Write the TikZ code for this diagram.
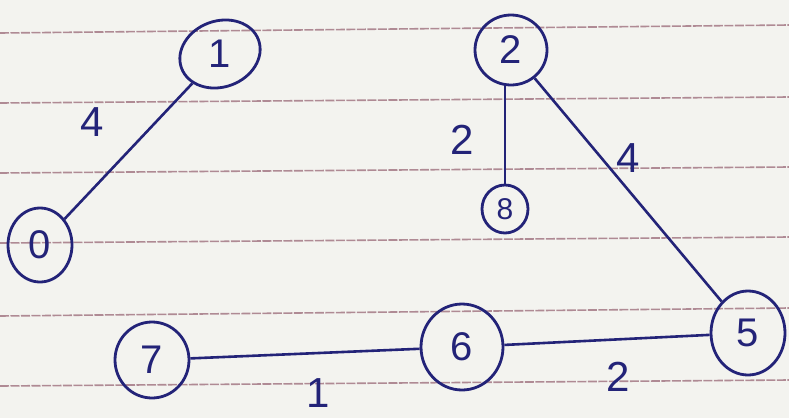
\documentclass[tikz,border=0pt]{standalone}
\usepackage{fontspec}
\setmainfont{Liberation Sans}
\usetikzlibrary{shapes.geometric}
\definecolor{ink}{RGB}{35,35,120}
\definecolor{paper}{RGB}{243,243,239}
\definecolor{rule}{RGB}{175,138,148}
\tikzset{
  vert/.style={ellipse, draw=ink, line width=2.8pt, text=ink, inner sep=0pt,
    font=\fontsize{40}{40}\selectfont},
  edge/.style={draw=ink, line width=2.6pt},
  wlabel/.style={text=ink, font=\fontsize{42}{42}\selectfont},
  ruleline/.style={draw=rule, line width=1.6pt, dash pattern=on 9pt off 1.5pt}
}
\begin{document}
\begin{tikzpicture}[x=1pt,y=-1pt]
\fill[paper] (0,0) rectangle (789,418);
\useasboundingbox (0,0) rectangle (789,418);
% paper rules
\draw[ruleline] (0,33) -- (789,25);
\draw[ruleline] (0,103) -- (789,97);
\draw[ruleline] (0,173) -- (789,167);
\draw[ruleline] (0,243) -- (789,237);
\draw[ruleline] (0,316) -- (789,308);
\draw[ruleline] (0,386) -- (789,380);
% vertices
\node[vert, minimum width=82pt, minimum height=66pt, rotate=20] (n1) at (220,54) {\rotatebox{-20}{1}};
\node[vert, minimum width=72pt, minimum height=70pt] (n2) at (511,50) {2};
\node[vert, minimum width=46pt, minimum height=48pt, font=\fontsize{30}{30}\selectfont] (n8) at (505,209) {8};
\node[vert, minimum width=64pt, minimum height=74pt] (n0) at (40,245) {0};
\node[vert, minimum width=74pt, minimum height=76pt] (n7) at (152,360) {7};
\node[vert, minimum width=82pt, minimum height=86pt] (n6) at (462,347) {6};
\node[vert, minimum width=74pt, minimum height=84pt] (n5) at (748,333) {5};
% edges
\draw[edge] (n1) -- (n0);
\draw[edge] (n2.south) ++(-6pt,0pt) coordinate (a) (a) -- (n8.north);
\draw[edge] (n2) -- (n5);
\draw[edge] (n7) -- (n6);
\draw[edge] (n6) -- (n5);
% weights
\node[wlabel] (w10) at (92,122) {4};
\node[wlabel] (w28) at (462,140) {2};
\node[wlabel] (w25) at (628,158) {4};
\node[wlabel] (w76) at (318,393) {1};
\node[wlabel] (w65) at (618,377) {2};
\end{tikzpicture}
\end{document}
